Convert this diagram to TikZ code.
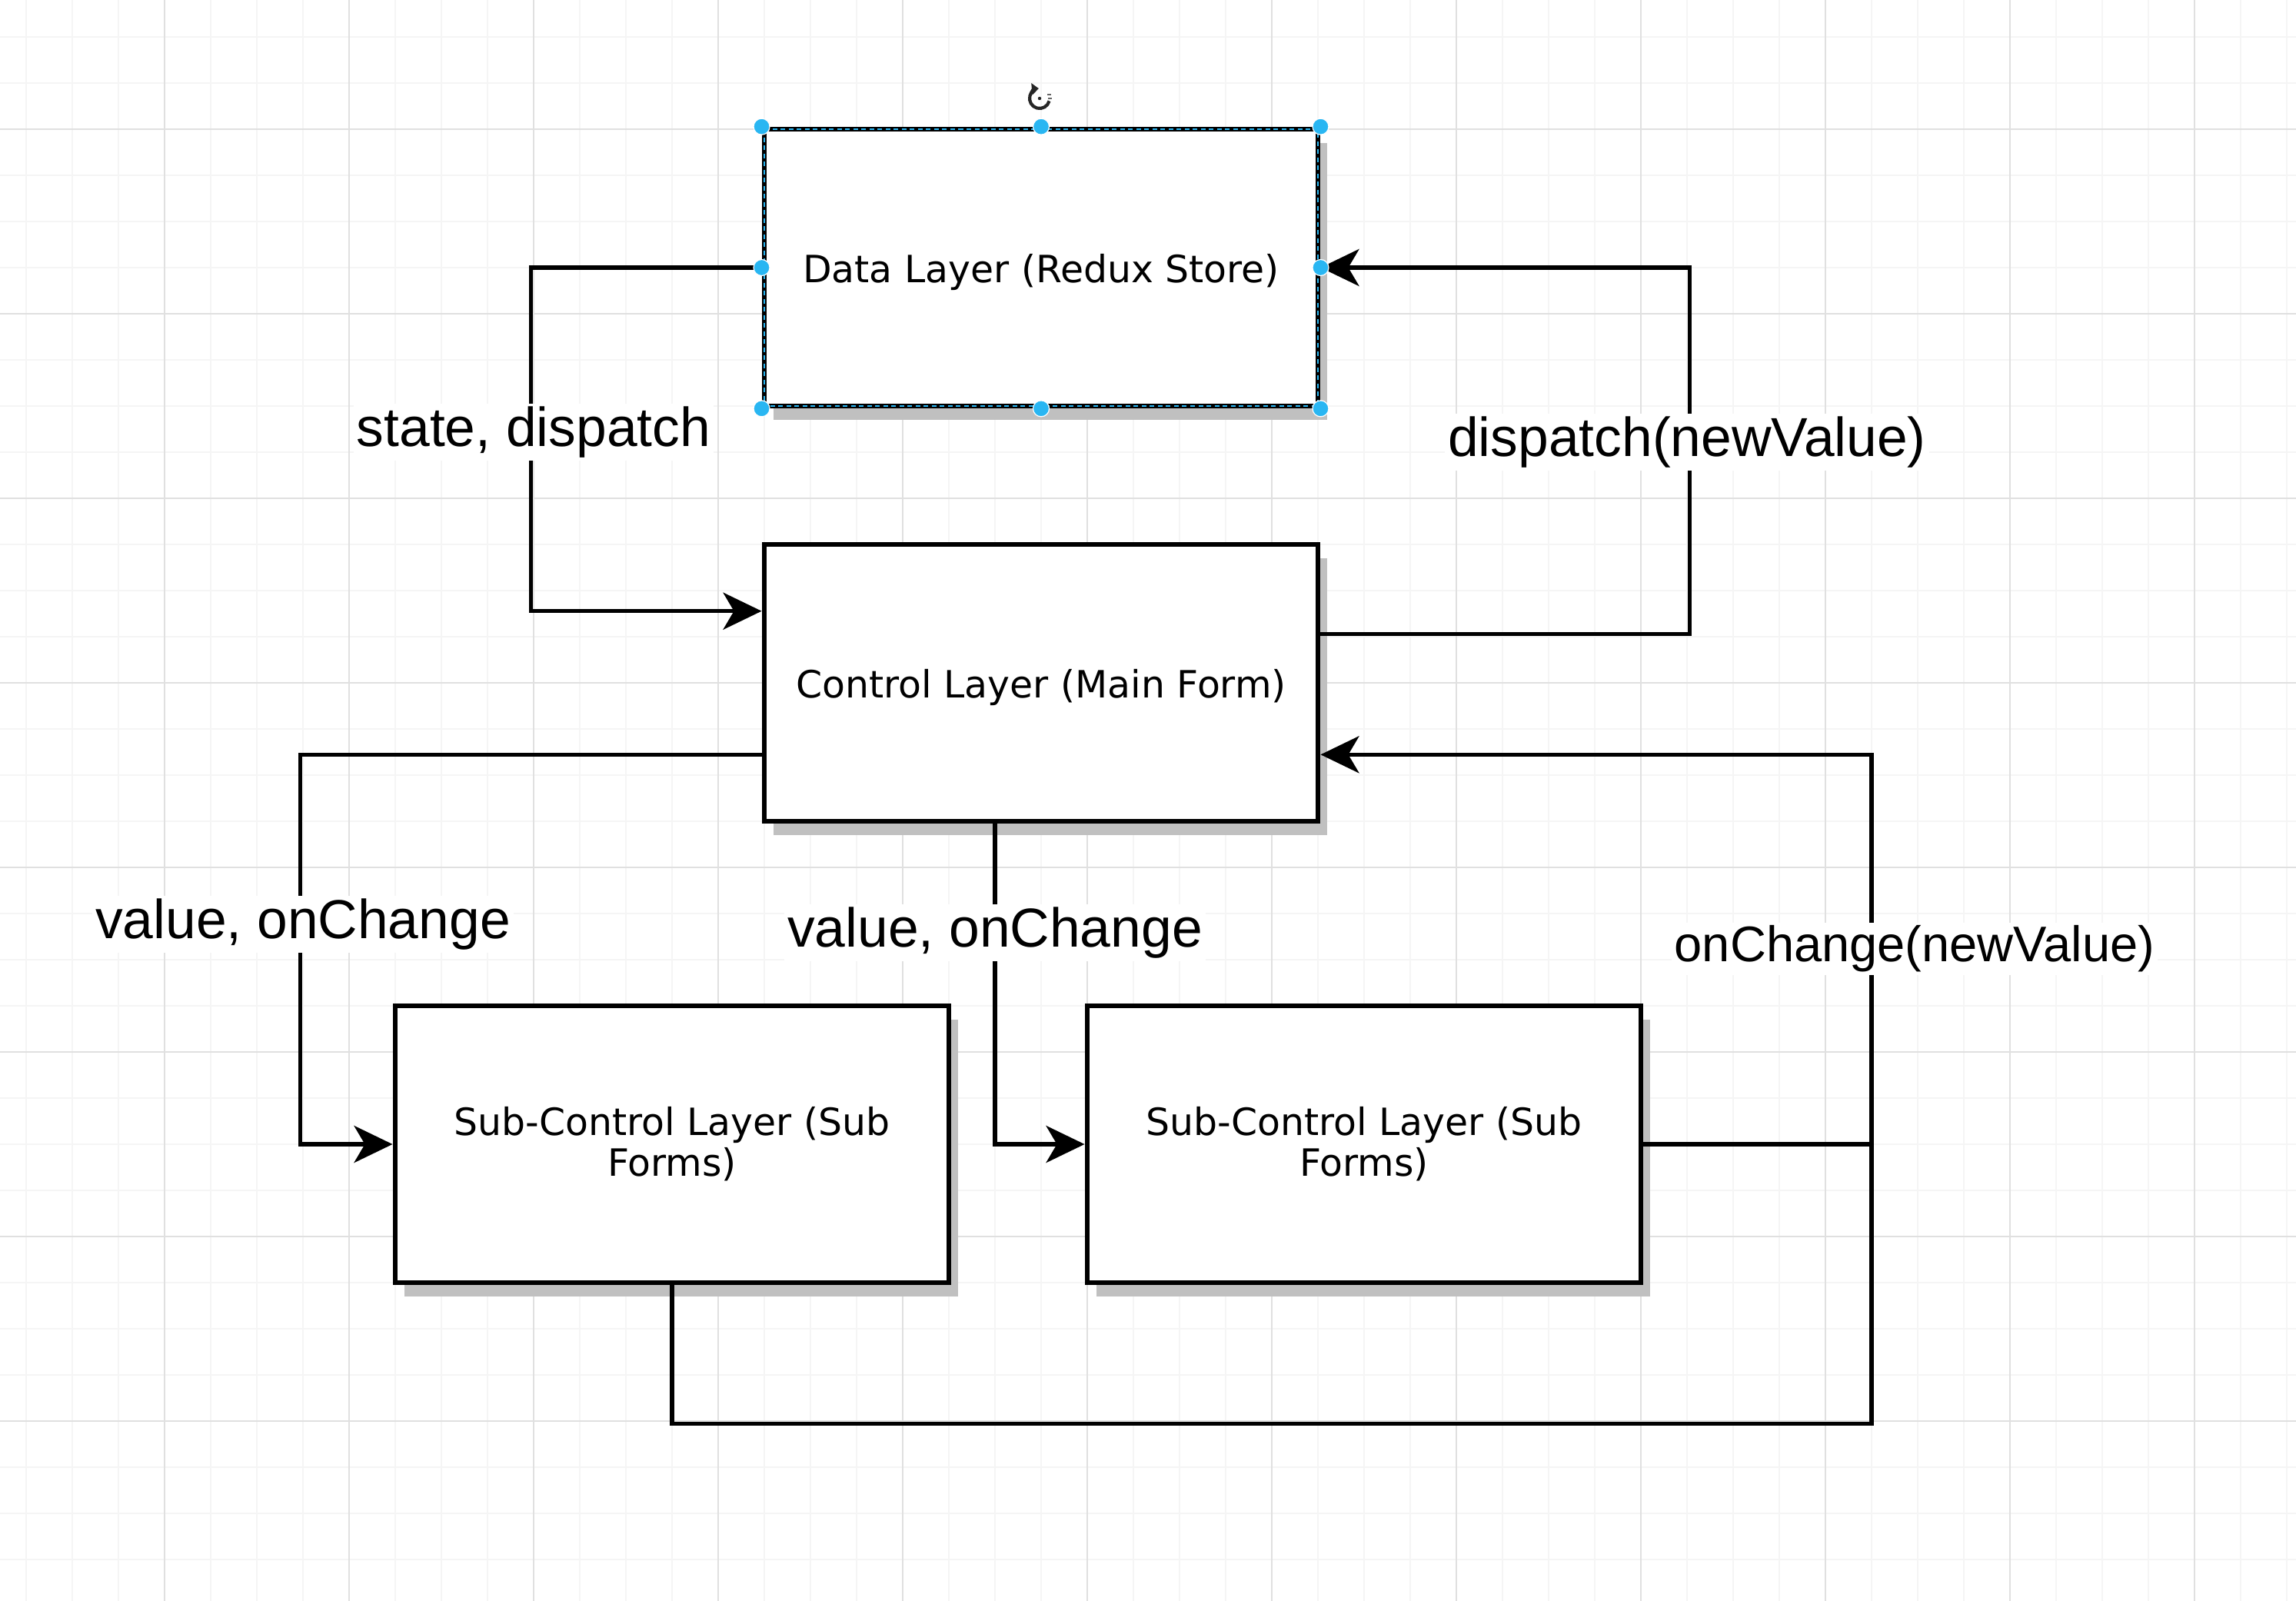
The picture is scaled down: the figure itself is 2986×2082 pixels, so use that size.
\documentclass[tikz,border=0pt]{standalone}
\usepackage{fontspec}
\newfontfamily\boxfont{DejaVu Sans}
\newfontfamily\tagfont{Liberation Sans}
\usetikzlibrary{positioning, calc}
\usetikzlibrary{arrows.meta, shadows}
\definecolor{gridminor}{HTML}{F5F5F5}
\definecolor{gridmajor}{HTML}{E0E0E0}
\definecolor{handleblue}{HTML}{29B6F2}
\definecolor{shadowgray}{HTML}{C0C0C0}
\tikzset{
  layer/.style={draw, line width=0.065cm, fill=white, minimum width=7.2cm, minimum height=3.6cm,
    align=center, font=\fontsize{13.9}{15.1}\boxfont,
    execute at begin node={\rule{0pt}{0.5cm}},
    drop shadow={shadow xshift=0.12cm, shadow yshift=-0.18cm, fill=shadowgray, opacity=1}},
  wire/.style={line width=0.055cm},
  flow/.style={wire, -{Stealth[length=0.5cm, width=0.48cm, inset=0.14cm]}},
  tag/.style={fill=white, inner sep=0.04cm, font=\fontsize{20.3}{24}\tagfont},
  smalltag/.style={tag, font=\fontsize{18.5}{22}\tagfont},
  handle/.style={fill=handleblue, draw=white, line width=0.012cm},
  seldash/.style={draw=handleblue, line width=0.02cm, dash pattern=on 0.06cm off 0.045cm}
}
\begin{document}
\begin{tikzpicture}[x=0.01cm, y=-0.01cm]
  \useasboundingbox (0,0) rectangle (2986,2082);
  \fill[white] (0,0) rectangle (2986,2082);
  \foreach \gx in {34,94,...,2974} \draw[gridminor, line width=0.015cm] (\gx,0) -- (\gx,2082);
  \foreach \gy in {48,108,...,2040} \draw[gridminor, line width=0.015cm] (0,\gy) -- (2986,\gy);
  \foreach \gx in {214,454,...,2854} \draw[gridmajor, line width=0.018cm] (\gx,0) -- (\gx,2082);
  \foreach \gy in {168,408,...,1848} \draw[gridmajor, line width=0.018cm] (0,\gy) -- (2986,\gy);

  \node[layer] (data) at (1354,348) {Data Layer (Redux Store)};
  \node[layer] (control) at (1354,888) {Control Layer (Main Form)};
  \node[layer] (subone) at (874,1488) {Sub-Control Layer (Sub\\Forms)};
  \node[layer] (subtwo) at (1774,1488) {Sub-Control Layer (Sub\\Forms)};
  \coordinate (merge) at (2434,1488);

  \draw[flow] (data.west) -- ++(-300,0) |- ([yshift=-0.9cm]control.north west);
  \draw[flow] ([yshift=-1.2cm]control.north east) -- ++(480,0) |- (data.east);
  \draw[flow] ([yshift=0.9cm]control.south west) -- ++(-600,0) |- (subone.west);
  \draw[flow] ([xshift=-0.6cm]control.south) |- (subtwo.west);
  \draw[flow] (subtwo.east) -- (merge) |- ([yshift=0.9cm]control.south east);
  \draw[wire] (subone.south) -- ++(0,180) -| (merge);

  \node[tag] (sdtag) at (694,562) {state, dispatch};
  \node[tag] (dptag) at (2194,575) {dispatch(newValue)};
  \node[tag] (voleft) at (394,1202) {value, onChange};
  \node[tag] (vomid) at (1294,1213) {value, onChange};
  \node[smalltag] (octag) at (2490,1234) {onChange(newValue)};

  \draw[seldash] (994,168) rectangle (1714,528);
  \foreach \a in {north west,north,north east,east,south east,south,south west,west}
    \filldraw[handle] (data.\a) circle (0.105cm);
  \coordinate (rot) at (1352,128);
  \draw[black!85, line width=0.042cm, -{Triangle[length=0.09cm, width=0.15cm]}]
    (rot) ++(-15:0.13cm) arc[start angle=-15, end angle=-265, radius=0.13cm];
  \draw[black!60, line width=0.02cm] ([xshift=0.1cm, yshift=0.05cm]rot) -- ++(0.05cm,0)
    ([xshift=0.11cm, yshift=0.0cm]rot) -- ++(0.05cm,0);
  \fill[black!85] (rot) circle (0.022cm);
\end{tikzpicture}
\end{document}
